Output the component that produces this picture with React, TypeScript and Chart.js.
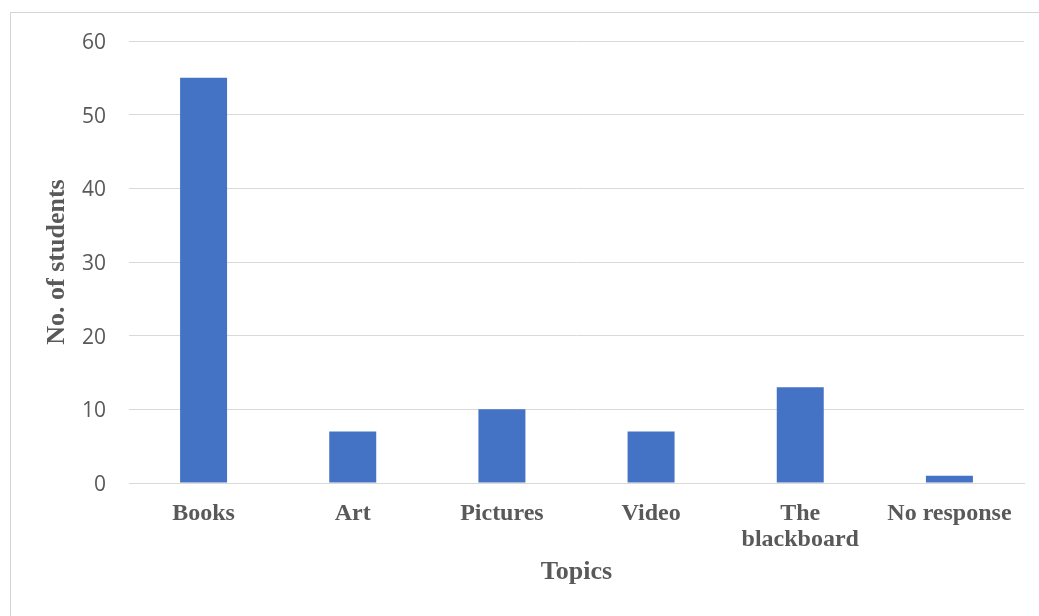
import React, { useEffect, useRef } from "react";
import { Chart, registerables } from "chart.js";

Chart.register(...registerables);

const categories: (string | string[])[] = ["Books", "Art", "Pictures", "Video", ["The", "blackboard"], "No response"];
const studentCounts: number[] = [55, 7, 10, 7, 13, 1];
const yTickValues: number[] = [0, 10, 20, 30, 40, 50, 60];
const xAxisTitle = "Topics";
const yAxisTitle = "No. of students";

const TEXT = "#595959";
const GRID = "#d9d9d9";
const SERIF = "'Liberation Serif', 'Times New Roman', serif";

export default function App() {
  const canvasRef = useRef<HTMLCanvasElement | null>(null);

  useEffect(() => {
    if (!canvasRef.current) return;
    const chart = new Chart(canvasRef.current, {
      type: "bar",
      data: {
        labels: categories,
        datasets: [
          {
            data: studentCounts,
            backgroundColor: "#4472C4",
            borderWidth: 0,
            categoryPercentage: 1,
            barPercentage: 0.315,
          },
        ],
      },
      options: {
        responsive: false,
        animation: false,
        layout: { padding: { left: 0, right: 15, top: 41, bottom: 0 } },
        plugins: { legend: { display: false }, tooltip: { enabled: false } },
        scales: {
          x: {
            grid: { display: false, drawTicks: false },
            border: { display: true, color: GRID, width: 1 },
            ticks: {
              color: TEXT,
              padding: 18,
              maxRotation: 0,
              autoSkip: false,
              font: { family: SERIF, size: 24, weight: "bold", lineHeight: 1.08 },
            },
            title: {
              display: true,
              text: xAxisTitle,
              color: TEXT,
              padding: { top: 0, bottom: 28 },
              font: { family: SERIF, size: 26, weight: "bold", lineHeight: 1.2 },
            },
            afterFit: (scale: any) => {
              scale.height = 133;
            },
          },
          y: {
            min: 0,
            max: 60,
            afterBuildTicks: (scale: any) => {
              scale.ticks = yTickValues.map((v) => ({ value: v }));
            },
            grid: { color: GRID, lineWidth: 1, drawTicks: false },
            border: { display: false },
            ticks: {
              color: TEXT,
              padding: 23,
              labelOffset: 2,
              font: { family: "'Open Sans', sans-serif", size: 21 },
            },
            title: {
              display: true,
              text: yAxisTitle,
              color: TEXT,
              padding: { top: 42, bottom: 0 },
              font: { family: SERIF, size: 26, weight: "bold", lineHeight: 1.2 },
            },
            afterFit: (scale: any) => {
              scale.width = 129;
            },
          },
        },
      },
    });
    return () => chart.destroy();
  }, []);

  return (
    <div
      style={{
        position: "fixed",
        left: 0,
        top: 0,
        width: 1039,
        height: 616,
        background: "#ffffff",
        overflow: "hidden",
      }}
    >
      <div
        style={{
          position: "absolute",
          left: 10,
          top: 12,
          width: 1100,
          height: 700,
          borderLeft: "1px solid #d4d4d4",
          borderTop: "1px solid #d4d4d4",
        }}
      />
      <canvas
        ref={canvasRef}
        width={1039}
        height={616}
        style={{ position: "absolute", left: 0, top: 0, display: "block" }}
      />
    </div>
  );
}
